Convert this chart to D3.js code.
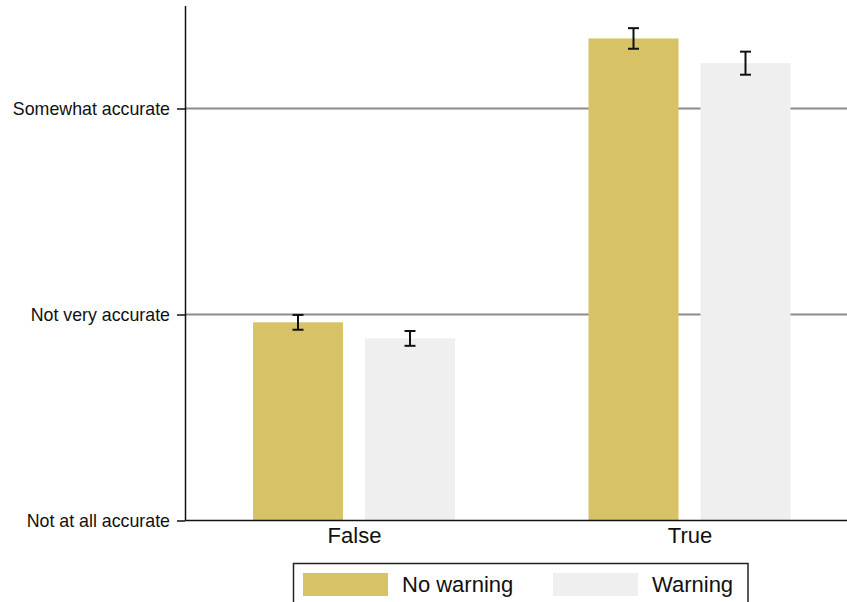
<!DOCTYPE html>
<html>
<head>
<meta charset="utf-8">
<script src="https://cdn.jsdelivr.net/npm/d3@7"></script>
<style>
  html, body { margin: 0; padding: 0; background: #fff; }
  svg { display: block; font-family: "Liberation Sans", Arial, Helvetica, sans-serif; }
</style>
</head>
<body>
<svg id="chart" width="847" height="602"></svg>
<script>
// Perceived accuracy by headline truth and warning condition
const categories = ["False", "True"];
const seriesNames = ["No warning", "Warning"];
const meanNoWarning = [1.962, 3.340];
const meanWarning   = [1.884, 3.220];
const ciNoWarning   = [0.036, 0.050];
const ciWarning     = [0.036, 0.056];
const yTickValues = [1, 2, 3];
const yTickLabels = ["Not at all accurate", "Not very accurate", "Somewhat accurate"];
const colors = ["#d8c266", "#efefef"];

const svg = d3.select("#chart");
const margin = { left: 185, top: 5.5, bottom: 520.5 };

const y = d3.scaleLinear().domain([1, 3.5]).range([margin.bottom, margin.top]);
// group centres
const x0 = d3.scalePoint().domain(categories).range([354, 689.5]);
// bar offsets within a group
const x1 = d3.scaleBand().domain(seriesNames).range([-101, 101]).paddingInner(0.1964);

// horizontal gridlines
svg.append("g")
  .selectAll("line")
  .data(yTickValues.slice(1))
  .join("line")
  .attr("x1", margin.left).attr("x2", 847)
  .attr("y1", d => y(d)).attr("y2", d => y(d))
  .attr("stroke", "#8c8c8c").attr("stroke-width", 2);

const rows = categories.map((c, i) => [
  { cat: c, s: seriesNames[0], v: meanNoWarning[i], e: ciNoWarning[i], color: colors[0] },
  { cat: c, s: seriesNames[1], v: meanWarning[i], e: ciWarning[i], color: colors[1] }
]).flat();

// bars
svg.append("g")
  .selectAll("rect")
  .data(rows)
  .join("rect")
  .attr("x", d => x0(d.cat) + x1(d.s))
  .attr("width", x1.bandwidth())
  .attr("y", d => y(d.v))
  .attr("height", d => y(1) - y(d.v))
  .attr("fill", d => d.color);

// error bars
const eb = svg.append("g").attr("stroke", "#111").attr("stroke-width", 2).attr("fill", "none");
rows.forEach(d => {
  const cx = x0(d.cat) + x1(d.s) + x1.bandwidth() / 2;
  const hi = y(d.v + d.e), lo = y(d.v - d.e);
  eb.append("line").attr("x1", cx).attr("x2", cx).attr("y1", hi).attr("y2", lo);
  eb.append("line").attr("x1", cx - 5.5).attr("x2", cx + 5.5).attr("y1", hi).attr("y2", hi);
  eb.append("line").attr("x1", cx - 5.5).attr("x2", cx + 5.5).attr("y1", lo).attr("y2", lo);
});

// y axis
const yAxis = d3.axisLeft(y)
  .tickValues(yTickValues)
  .tickFormat((d, i) => yTickLabels[i])
  .tickSize(8)
  .tickPadding(7)
  .tickSizeOuter(0);
const gy = svg.append("g").attr("transform", `translate(${margin.left},0)`).call(yAxis);
gy.select(".domain").attr("stroke", "#111").attr("stroke-width", 1.5);
gy.selectAll(".tick line").attr("stroke", "#111").attr("stroke-width", 1.5);
gy.selectAll(".tick text").attr("font-size", 17.8).attr("fill", "#111")
  .attr("font-family", "Liberation Sans, Arial, sans-serif");

// x axis: baseline runs across the full width
svg.append("line")
  .attr("x1", margin.left).attr("x2", 847)
  .attr("y1", margin.bottom).attr("y2", margin.bottom)
  .attr("stroke", "#111").attr("stroke-width", 1.5);
const xAxis = d3.axisBottom(x0).tickSize(0).tickPadding(7).tickSizeOuter(0);
const gx = svg.append("g").attr("transform", `translate(0,${margin.bottom})`).call(xAxis);
gx.select(".domain").remove();
gx.selectAll(".tick text").attr("font-size", 22).attr("fill", "#111")
  .attr("font-family", "Liberation Sans, Arial, sans-serif");

// legend
const legend = svg.append("g");
legend.append("rect")
  .attr("x", 293.5).attr("y", 563.5).attr("width", 454.5).attr("height", 60)
  .attr("fill", "#fff").attr("stroke", "#222").attr("stroke-width", 1.5);
const legendItems = [
  { name: seriesNames[0], color: colors[0], sx: 303, tx: 402 },
  { name: seriesNames[1], color: colors[1], sx: 553, tx: 652 }
];
legendItems.forEach(it => {
  legend.append("rect").attr("x", it.sx).attr("y", 573).attr("width", 85).attr("height", 23).attr("fill", it.color);
  legend.append("text").attr("x", it.tx).attr("y", 592).attr("font-size", 22).attr("fill", "#111").text(it.name);
});
</script>
</body>
</html>
